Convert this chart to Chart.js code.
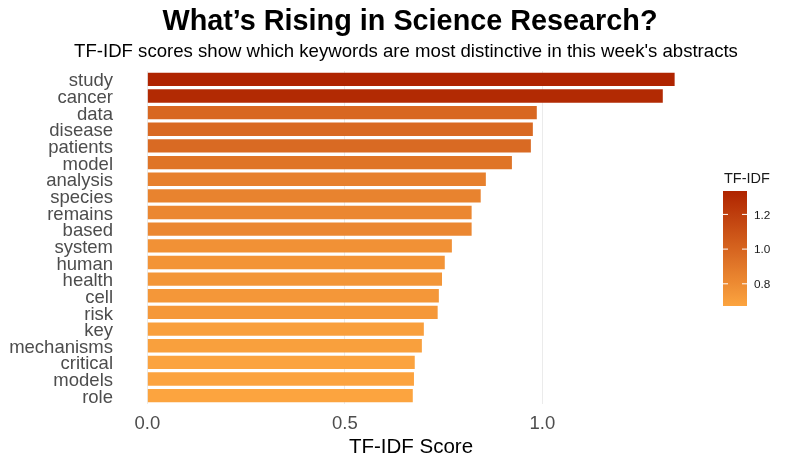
<!DOCTYPE html>
<html><head><meta charset="utf-8">
<script src="https://cdn.jsdelivr.net/npm/chart.js@4.4.1/dist/chart.umd.min.js"></script>
<style>html,body{margin:0;padding:0;background:#fff}#wrap{width:786px;height:463px;position:relative}</style>
</head><body><div id="wrap"><canvas id="c"></canvas></div>
<script>
const keywords = ["study","cancer","data","disease","patients","model","analysis","species","remains","based","system","human","health","cell","risk","key","mechanisms","critical","models","role"];
const scores = [1.335,1.305,0.986,0.976,0.971,0.923,0.857,0.844,0.821,0.821,0.771,0.753,0.746,0.738,0.735,0.700,0.695,0.677,0.675,0.672];
const xTicks = [0, 0.5, 1.0];
const legendTicks = [0.8, 1.0, 1.2];
const titleText = "What\u2019s Rising in Science Research?";
const subtitleText = "TF-IDF scores show which keywords are most distinctive in this week's abstracts";
const xTitle = "TF-IDF Score";
const legendTitle = "TF-IDF";

const FONT = "'Liberation Sans', Arial, sans-serif";
const lowCol = [252,164,63], highCol = [175,36,0];
const vMin = Math.min(...scores), vMax = Math.max(...scores);
function colorFor(v){
  const t = Math.max(0, Math.min(1, (v - vMin) / (vMax - vMin)));
  const c = lowCol.map((l,i)=>Math.round(l + (highCol[i]-l)*t));
  return `rgb(${c[0]},${c[1]},${c[2]})`;
}
const range = vMax - 0;
const xMin = 0 - range*0.05, xMax = vMax + range*0.05;

const titlePlugin = {
  id:'titles',
  afterDraw(chart){
    const ctx = chart.ctx;
    ctx.save();
    ctx.fillStyle = '#000';
    ctx.textAlign = 'center';
    ctx.textBaseline = 'alphabetic';
    ctx.font = `bold 28.8px ${FONT}`;
    ctx.fillText(titleText, 410, 30);
    ctx.font = `18.6px ${FONT}`;
    ctx.fillText(subtitleText, 406, 56.5);
    ctx.restore();
  }
};

const legendPlugin = {
  id:'colorbar',
  afterDraw(chart){
    const ctx = chart.ctx;
    const x = 723, top = 191, w = 24, h = 115, bottom = top + h;
    ctx.save();
    const g = ctx.createLinearGradient(0, bottom, 0, top);
    for (let i = 0; i <= 20; i++) {
      g.addColorStop(i/20, colorFor(vMin + (vMax - vMin)*i/20));
    }
    ctx.fillStyle = g;
    ctx.fillRect(x, top, w, h);
    ctx.strokeStyle = '#fff';
    ctx.lineWidth = 1;
    ctx.font = `11.8px ${FONT}`;
    ctx.fillStyle = '#1a1a1a';
    ctx.textAlign = 'left';
    ctx.textBaseline = 'middle';
    legendTicks.forEach(v=>{
      const y = bottom - (v - vMin)/(vMax - vMin)*h;
      ctx.beginPath();
      ctx.moveTo(x, y); ctx.lineTo(x+5, y);
      ctx.moveTo(x+w-5, y); ctx.lineTo(x+w, y);
      ctx.stroke();
      ctx.fillText(v.toFixed(1), x+w+7, y+1);
    });
    ctx.font = `14.5px ${FONT}`;
    ctx.textBaseline = 'alphabetic';
    ctx.fillText(legendTitle, 724, 183.3);
    ctx.restore();
  }
};

new Chart(document.getElementById('c'), {
  type:'bar',
  data:{
    labels: keywords,
    datasets:[{
      data: scores,
      backgroundColor: scores.map(colorFor),
      barPercentage: 0.8,
      categoryPercentage: 1.0,
      borderWidth: 0
    }]
  },
  options:{
    indexAxis:'y',
    responsive:true,
    maintainAspectRatio:false,
    animation:false,
    layout:{padding:{left:7, right:85, top:71, bottom:0}},
    plugins:{legend:{display:false}, tooltip:{enabled:false}, title:{display:false}},
    scales:{
      x:{
        type:'linear',
        min:xMin, max:xMax,
        afterBuildTicks(scale){ scale.ticks = xTicks.map(v=>({value:v})); },
        afterFit(scale){ scale.height = 59; },
        grid:{color:'#EBEBEB', lineWidth:1, drawTicks:false},
        border:{display:false},
        ticks:{color:'#4D4D4D', font:{family:FONT, size:18.5}, padding:9, callback:v=>Number(v).toFixed(1)},
        title:{display:true, text:xTitle, color:'#000', font:{family:FONT, size:20.5}, padding:{top:0, bottom:3}}
      },
      y:{
        afterFit(scale){ scale.width = 114; },
        grid:{display:false, drawTicks:false},
        border:{display:false},
        ticks:{color:'#4D4D4D', font:{family:FONT, size:18.5}, padding:8, autoSkip:false, labelOffset:2}
      }
    }
  },
  plugins:[titlePlugin, legendPlugin]
});
</script>
</body></html>
